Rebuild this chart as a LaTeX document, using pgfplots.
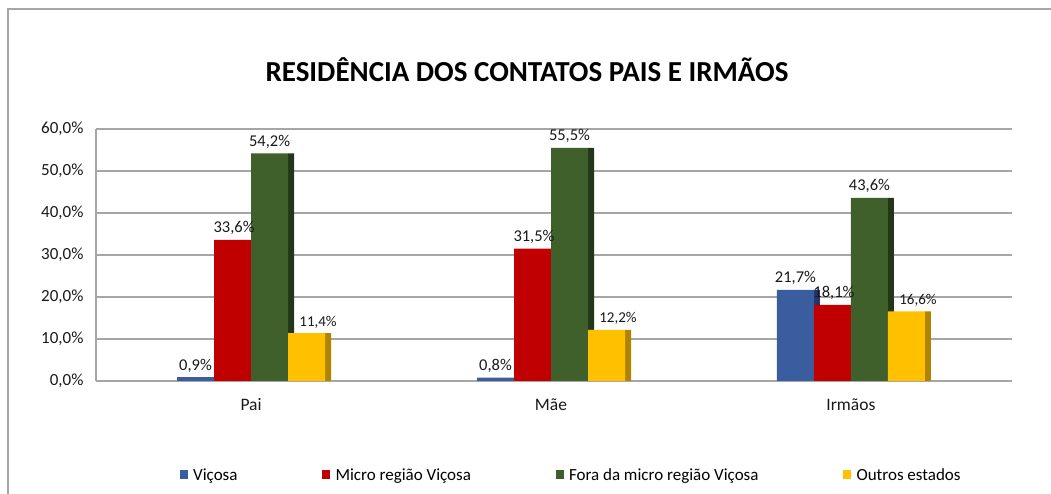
\documentclass[border=0pt]{standalone}
\usepackage{fontspec}
\setmainfont{Carlito}
\usepackage{pgfplots}
\pgfplotsset{compat=1.18}
\usepackage{pgfplotstable}
\definecolor{cB}{HTML}{3A5DA0}
\definecolor{cBs}{HTML}{22386A}
\definecolor{cR}{HTML}{C00000}
\definecolor{cRs}{HTML}{7A0000}
\definecolor{cG}{HTML}{3F5F2B}
\definecolor{cGs}{HTML}{23361A}
\definecolor{cY}{HTML}{FFC000}
\definecolor{cYs}{HTML}{B08400}
\definecolor{gridc}{HTML}{A6A6A6}
\pgfplotstableread{
x v m f o
0 0.9 33.6 54.2 11.4
1 0.8 31.5 55.5 12.2
2 21.7 18.1 43.6 16.6
}\data
\pgfplotsset{
  lbl/.style={nodes near coords={\pgfmathprintnumber[fixed,fixed zerofill,precision=1,use comma]{\pgfplotspointmeta}\%},
    every node near coord/.append style={font=\fontsize{16.5}{18}\selectfont, text=black!90, xshift=#1, yshift=1.5pt}},
}
\begin{document}
\begin{tikzpicture}[x=1pt,y=1pt]
\useasboundingbox (0,0) rectangle (1051,494);
\draw[gridc, line width=1.5pt] (8,-2) -- (8,485) -- (1053,485);
\begin{axis}[
  at={(96pt,113pt)}, anchor=south west,
  scale only axis, width=916pt, height=252pt,
  xmin=-0.517, xmax=2.537, ymin=0, ymax=60,
  axis x line*=bottom, axis y line*=left,
  axis line style={-, gridc, line width=1.3pt},
  ymajorgrids, grid style={gridc, line width=1.3pt},
  major tick length=0pt,
  xtick={0,1,2}, xticklabels={Pai,Mãe,Irmãos},
  ytick={0,10,...,60},
  /pgf/number format/assume math mode=true,
  yticklabel={\pgfmathprintnumber[fixed,fixed zerofill,precision=1,use comma]{\tick}\%},
  yticklabel style={font=\fontsize{17}{19}\selectfont, text=black!90, xshift=-9pt},
  xticklabel style={font=\fontsize{17.5}{19}\selectfont, text=black!90, yshift=-14pt},
  title={RESIDÊNCIA DOS CONTATOS PAIS E IRMÃOS},
  title style={at={(0.4705,1.21)}, anchor=center, font=\bfseries\fontsize{29}{33}\selectfont},
  legend columns=4,
  legend style={at={(0.519,-0.373)}, anchor=center, draw=none, fill=none,
    font=\fontsize{17}{19}\selectfont, nodes={inner sep=2.5pt},
    /tikz/every odd column/.append style={column sep=3pt},
    /tikz/every even column/.append style={column sep=82pt}},
  legend image code/.code={\fill[#1] (0pt,-4pt) rectangle (8pt,5pt);},
]
% sides
\addplot[ybar, bar width=6pt, bar shift=-34pt, fill=cBs, draw=none, forget plot] table[x=x,y=v]{\data};
\addplot[ybar, bar width=6pt, bar shift=3pt, fill=cRs, draw=none, forget plot] table[x=x,y=m]{\data};
\addplot[ybar, bar width=6pt, bar shift=40pt, fill=cGs, draw=none, forget plot] table[x=x,y=f]{\data};
\addplot[ybar, bar width=6pt, bar shift=77pt, fill=cYs, draw=none, forget plot] table[x=x,y=o]{\data};
% fronts
\addplot[ybar, bar width=37pt, bar shift=-55.5pt, fill=cB, draw=none, lbl=-55.5pt] table[x=x,y=v]{\data};
\addplot[ybar, bar width=37pt, bar shift=-18.5pt, fill=cR, draw=none, lbl=-17pt] table[x=x,y=m]{\data};
\addplot[ybar, bar width=37pt, bar shift=18.5pt, fill=cG, draw=none, lbl=18.5pt] table[x=x,y=f]{\data};
\addplot[ybar, bar width=37pt, bar shift=55.5pt, fill=cY, draw=none, lbl=67pt,
  every node near coord/.append style={font=\fontsize{15}{17}\selectfont}] table[x=x,y=o]{\data};
\legend{Viçosa, Micro região Viçosa, Fora da micro região Viçosa, Outros estados}
\end{axis}
\end{tikzpicture}
\end{document}
